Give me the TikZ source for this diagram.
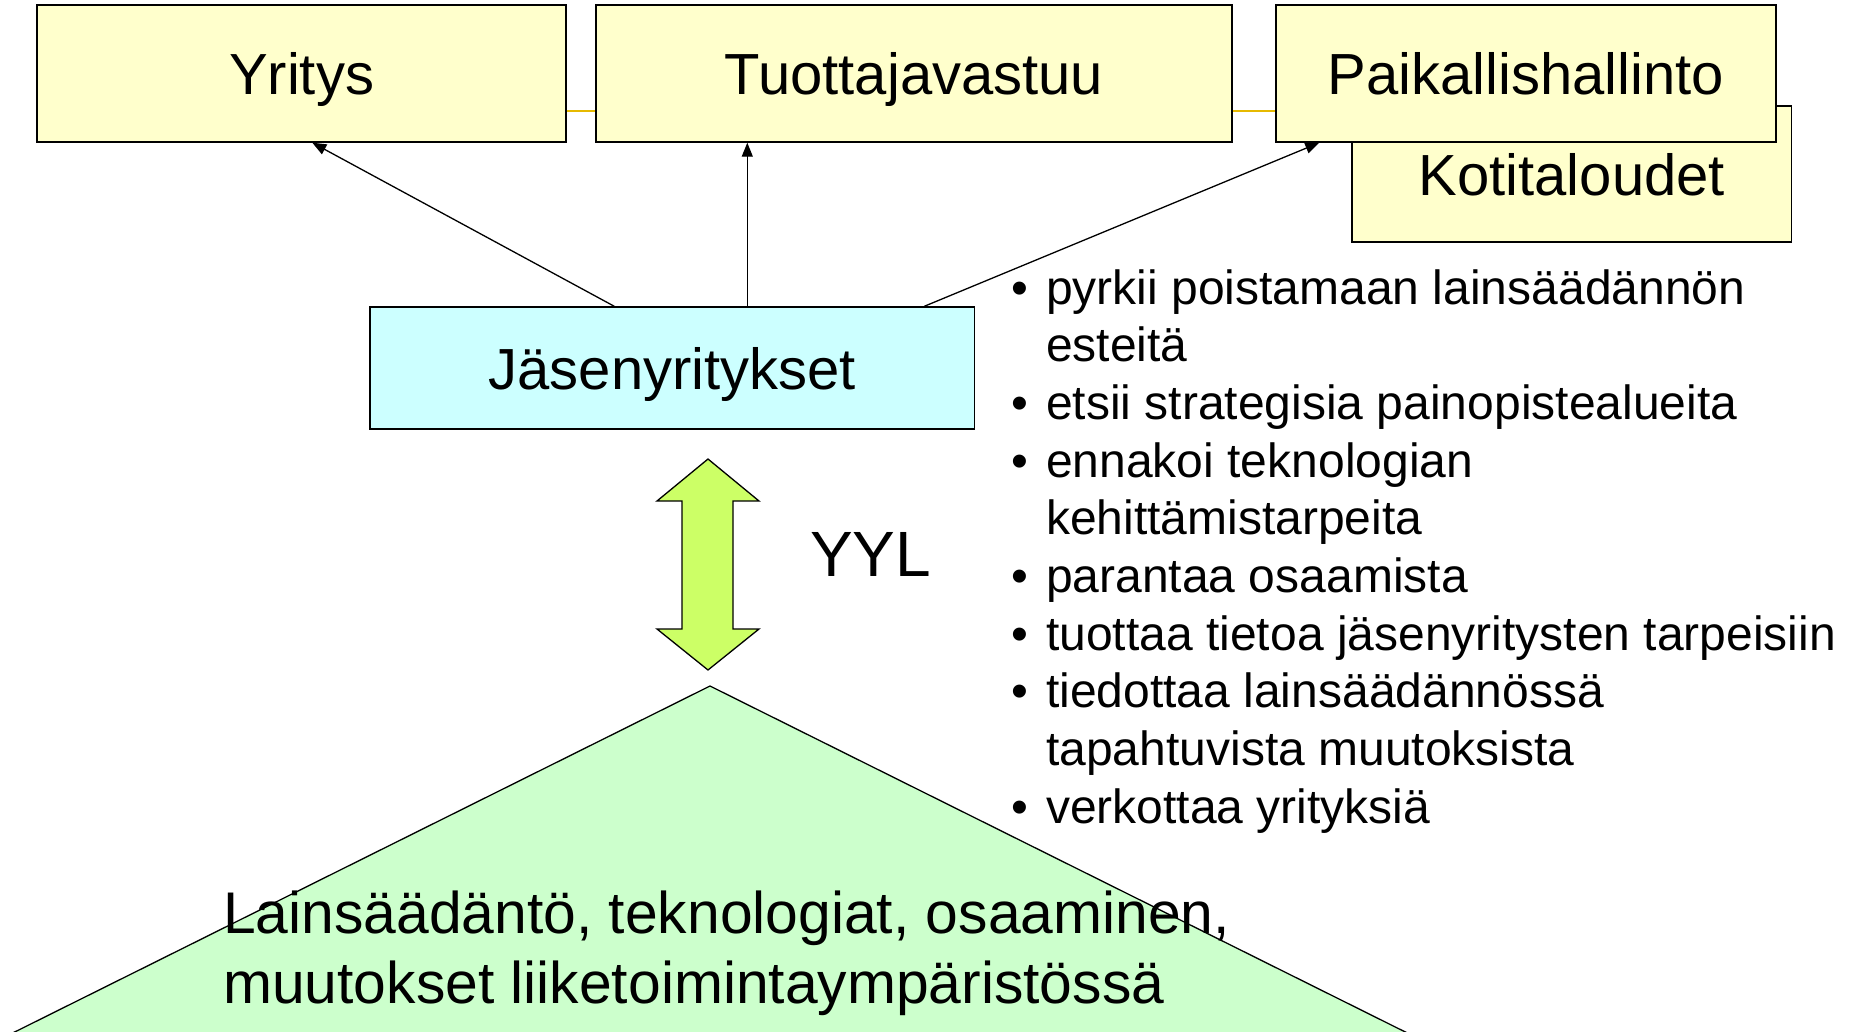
\documentclass[tikz,border=0pt]{standalone}
\usepackage{fontspec}
\setmainfont{Liberation Sans}
\usetikzlibrary{arrows.meta,calc}
\definecolor{boxyellow}{HTML}{FFFFCC}
\definecolor{boxcyan}{HTML}{CCFFFF}
\definecolor{arrowgreen}{HTML}{CCFF66}
\definecolor{trigreen}{HTML}{CCFFCC}
\definecolor{goldline}{RGB}{230,185,0}
\begin{document}
\begin{tikzpicture}[x=1pt,y=-1pt,
  ybox/.style={draw=black, line width=1.4pt, fill=boxyellow, inner sep=0pt,
    font=\fontsize{58}{70}\selectfont, text height=42pt, text depth=0pt},
  cbox/.style={ybox, fill=boxcyan},
  arr/.style={line width=1.3pt, -{Triangle[length=14pt,width=11pt]}},
  gline/.style={goldline, line width=2pt},
  bigtext/.style={font=\fontsize{58}{70}\selectfont, inner sep=0pt}
]
\useasboundingbox (0,0) rectangle (1858,1031);

% triangle (clipped by picture edge)
\begin{scope}
\clip (0,0) rectangle (1858,1031);
\draw[fill=trigreen, line width=1.3pt] (710,686) -- (1544,1101) -- (-124,1101) -- cycle;
\end{scope}

% boxes
\coordinate (o) at (0,111);
\node[ybox, minimum width=439.5pt, minimum height=136pt] (kotit) at (1571.75,174) {Kotitaloudet};
\node[ybox, minimum width=529pt, minimum height=137pt] (yritys) at (301.5,73.5) {Yritys};
\node[ybox, minimum width=636pt, minimum height=137pt] (tuot) at (914,73.5) {Tuottajavastuu};
\node[ybox, minimum width=500pt, minimum height=137pt] (paik) at (1526,73.5) {Paikallishallinto};
\node[cbox, minimum width=604.5pt, minimum height=122pt] (jas) at (672.25,368) {Jäsenyritykset};

% gold lines between top boxes
\draw[gline] (yritys.east |- o) -- (tuot.west |- o);
\draw[gline] (tuot.east |- o) -- (paik.west |- o);

% arrows
\draw[arr] ($(jas.north west)+(245,0)$) -- ($(yritys.south west)+(276,0)$);
\draw[arr] ($(jas.north west)+(378,0)$) -- ($(tuot.south west)+(152,0)$);
\draw[arr] ($(jas.north west)+(555,0)$) -- ($(paik.south west)+(44,0)$);

% double arrow
\draw[fill=arrowgreen, line width=1.3pt, line join=miter]
  (708,459) -- (759,501) -- (733,501) -- (733,629) -- (759,629) -- (708,670)
  -- (657,629) -- (682,629) -- (682,501) -- (657,501) -- cycle;

\node[anchor=base west, font=\fontsize{64}{70}\selectfont, inner sep=0pt] (yyl) at (810,576) {YYL};

% bullet list
\node[anchor=base west, inner sep=0pt, font=\fontsize{48}{57.7}\selectfont] (list) at (1011.6,304) {%
\renewcommand{\arraystretch}{1}%
\begin{tabular}[t]{@{}l@{\hspace{17.6pt}}l@{}}
• & pyrkii poistamaan lainsäädännön\\
  & esteitä\\
• & etsii strategisia painopistealueita\\
• & ennakoi teknologian\\
  & kehittämistarpeita\\
• & parantaa osaamista\\
• & tuottaa tietoa jäsenyritysten tarpeisiin\\
• & tiedottaa lainsäädännössä\\
  & tapahtuvista muutoksista\\
• & verkottaa yrityksiä
\end{tabular}};

% bottom text
\node[anchor=base west, inner sep=0pt, font=\fontsize{58.8}{70}\selectfont] (base) at (223,933) {%
\renewcommand{\arraystretch}{1}%
\begin{tabular}[t]{@{}l@{}}
Lainsäädäntö, teknologiat, osaaminen,\\
muutokset liiketoimintaympäristössä
\end{tabular}};
\end{tikzpicture}
\end{document}
